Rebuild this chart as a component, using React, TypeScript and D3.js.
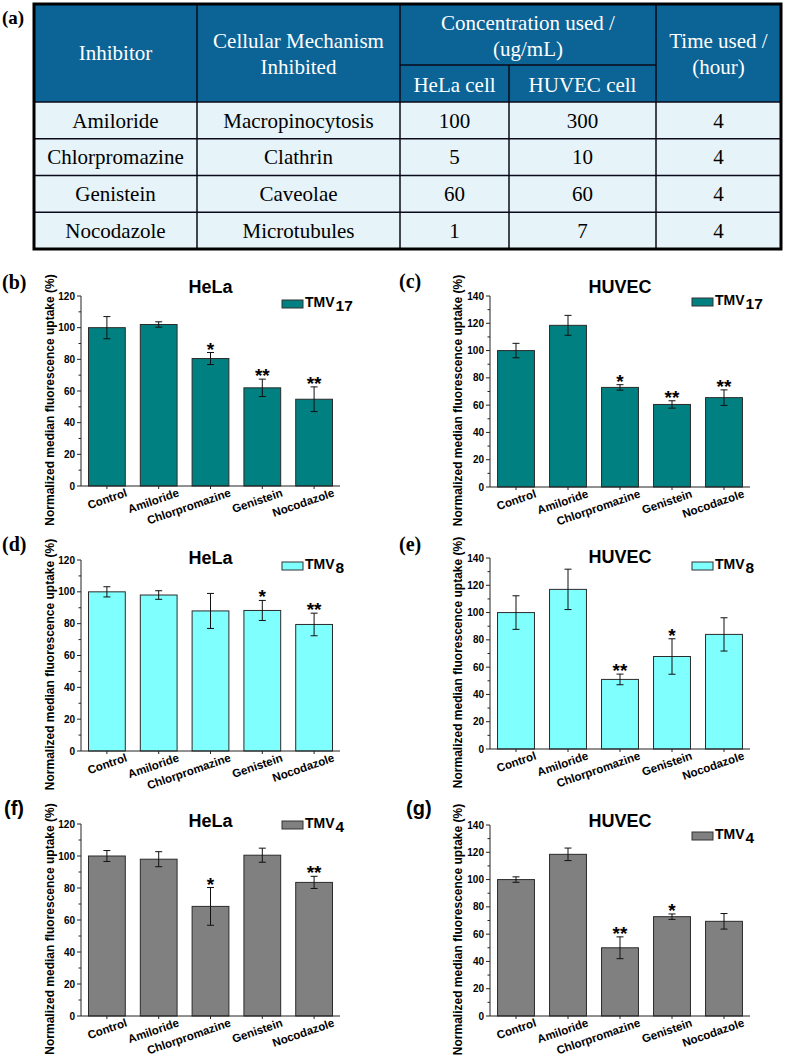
import React from "react";
import { scaleLinear, scaleBand, range } from "d3";

// table (a)
const tableHead = ["Inhibitor", "Cellular Mechanism", "Concentration used /", "Time used /"];
const inhibitors = ["Amiloride", "Chlorpromazine", "Genistein", "Nocodazole"];
const mechanisms = ["Macropinocytosis", "Clathrin", "Caveolae", "Microtubules"];
const helaConc = ["100", "5", "60", "1"];
const huvecConc = ["300", "10", "60", "7"];
const timeUsed = ["4", "4", "4", "4"];

// bar charts (b)-(g)
const categories = ["Control", "Amiloride", "Chlorpromazine", "Genistein", "Nocodazole"];

const helaTmv17 = [100, 102, 80.5, 62, 54.8];
const helaTmv17Err = [7, 1.7, 3.8, 5.5, 7.8];
const helaTmv17Sig = ["", "", "*", "**", "**"];

const huvecTmv17 = [100, 118.5, 73, 60.5, 65.5];
const huvecTmv17Err = [5.3, 7.3, 2, 2.7, 5.7];
const huvecTmv17Sig = ["", "", "*", "**", "**"];

const helaTmv8 = [100, 98, 88, 88.3, 79.5];
const helaTmv8Err = [3.2, 2.7, 11, 6.3, 7.1];
const helaTmv8Sig = ["", "", "", "*", "**"];

const huvecTmv8 = [100, 117, 51, 67.8, 84];
const huvecTmv8Err = [12.3, 14.8, 3.9, 13, 12.2];
const huvecTmv8Sig = ["", "", "**", "*", ""];

const helaTmv4 = [100, 98, 68.5, 100.5, 83.5];
const helaTmv4Err = [3.4, 4.7, 11.8, 4.4, 3.8];
const helaTmv4Sig = ["", "", "*", "", "**"];

const huvecTmv4 = [100, 118.5, 50, 72.8, 69.4];
const huvecTmv4Err = [2, 4.6, 8, 2, 5.7];
const huvecTmv4Sig = ["", "", "**", "*", ""];

const SANS = "'Liberation Sans', Arial, sans-serif";
const SERIF = "'Liberation Serif', 'Times New Roman', serif";

const panels = [
  { tag: "(b)", tagX: 2, tagY: 289, tagFont: SERIF, title: "HeLa", sub: "17", fill: "#008080", vals: helaTmv17, errs: helaTmv17Err, sig: helaTmv17Sig, left: 81, right: 340, top: 296, bottom: 486, max: 120, titleY: 293, legY: 300, labX: 54 },
  { tag: "(c)", tagX: 399, tagY: 288, tagFont: SERIF, title: "HUVEC", sub: "17", fill: "#008080", vals: huvecTmv17, errs: huvecTmv17Err, sig: huvecTmv17Sig, left: 490, right: 750, top: 296, bottom: 487, max: 140, titleY: 293, legY: 298, labX: 462 },
  { tag: "(d)", tagX: 2, tagY: 551, tagFont: SERIF, title: "HeLa", sub: "8", fill: "#80ffff", vals: helaTmv8, errs: helaTmv8Err, sig: helaTmv8Sig, left: 81, right: 340, top: 560, bottom: 751, max: 120, titleY: 564, legY: 562, labX: 54 },
  { tag: "(e)", tagX: 399, tagY: 551, tagFont: SERIF, title: "HUVEC", sub: "8", fill: "#80ffff", vals: huvecTmv8, errs: huvecTmv8Err, sig: huvecTmv8Sig, left: 490, right: 750, top: 558, bottom: 749, max: 140, titleY: 563, legY: 562, labX: 462 },
  { tag: "(f)", tagX: 4, tagY: 815, tagFont: SANS, title: "HeLa", sub: "4", fill: "#808080", vals: helaTmv4, errs: helaTmv4Err, sig: helaTmv4Sig, left: 81, right: 340, top: 824, bottom: 1016, max: 120, titleY: 827, legY: 821, labX: 54 },
  { tag: "(g)", tagX: 406, tagY: 815, tagFont: SANS, title: "HUVEC", sub: "4", fill: "#808080", vals: huvecTmv4, errs: huvecTmv4Err, sig: huvecTmv4Sig, left: 490, right: 750, top: 825, bottom: 1016, max: 140, titleY: 827, legY: 832, labX: 462 },
];

type PanelProps = (typeof panels)[number];

function Panel(p: PanelProps) {
  const x = scaleBand<string>().domain(categories).range([p.left, p.right]).paddingInner(0.29).paddingOuter(0.145);
  const y = scaleLinear().domain([0, p.max]).range([p.bottom, p.top]);
  const major = range(0, p.max + 1, 20);
  const minor = range(10, p.max, 20);
  const cx = (c: string) => (x(c) as number) + x.bandwidth() / 2;
  const mid = (p.left + p.right) / 2;

  return (
    <g fontFamily={SANS}>
      <text x={p.tagX} y={p.tagY} fontFamily={p.tagFont} fontWeight="bold" fontSize={20}>{p.tag}</text>
      <text x={mid} y={p.titleY} textAnchor="middle" fontWeight="bold" fontSize={18}>{p.title}</text>

      {/* legend */}
      <rect x={p.right - 58} y={p.legY} width={21} height={8} fill={p.fill} stroke="#333" strokeWidth={1} />
      <text x={p.right - 35} y={p.legY + 7} fontWeight="bold" fontSize={14}>
        TMV<tspan dx={1} dy={4} fontSize={15.5}>{p.sub}</tspan>
      </text>

      {/* bars */}
      {categories.map((c, i) => (
        <rect key={c} x={x(c)} y={y(p.vals[i])} width={x.bandwidth()} height={y(0) - y(p.vals[i])}
          fill={p.fill} stroke="#2b2b2b" strokeWidth={1} />
      ))}

      {/* error bars */}
      {categories.map((c, i) => {
        const hi = y(p.vals[i] + p.errs[i]);
        const lo = y(p.vals[i] - p.errs[i]);
        const xc = cx(c);
        return (
          <g key={c} stroke="#111" strokeWidth={1}>
            <line x1={xc} x2={xc} y1={hi} y2={lo} />
            <line x1={xc - 3.5} x2={xc + 3.5} y1={hi} y2={hi} />
            <line x1={xc - 3.5} x2={xc + 3.5} y1={lo} y2={lo} />
          </g>
        );
      })}

      {/* significance stars */}
      {categories.map((c, i) =>
        p.sig[i] ? (
          <text key={c} x={cx(c)} y={y(p.vals[i] + p.errs[i]) + 3} textAnchor="middle" fontWeight="bold" fontSize={19}>
            {p.sig[i]}
          </text>
        ) : null
      )}

      {/* y axis */}
      <line x1={p.left} x2={p.left} y1={p.top} y2={p.bottom} stroke="#222" strokeWidth={1} />
      {major.map((t) => (
        <g key={t}>
          <line x1={p.left - 4} x2={p.left} y1={y(t)} y2={y(t)} stroke="#222" strokeWidth={1} />
          <text x={p.left - 6} y={y(t)} dy="0.35em" textAnchor="end" fontWeight="bold" fontSize={10}>{t}</text>
        </g>
      ))}
      {minor.map((t) => (
        <line key={t} x1={p.left - 2.5} x2={p.left} y1={y(t)} y2={y(t)} stroke="#222" strokeWidth={1} />
      ))}
      <text transform={`translate(${p.labX},${(p.top + p.bottom) / 2 + 9}) rotate(-90)`} textAnchor="middle"
        fontWeight="bold" fontSize={12}>
        Normalized median fluorescence uptake (%)
      </text>

      {/* x axis */}
      <line x1={p.left} x2={p.right} y1={p.bottom} y2={p.bottom} stroke="#222" strokeWidth={1} />
      {categories.map((c) => (
        <g key={c}>
          <line x1={cx(c)} x2={cx(c)} y1={p.bottom} y2={p.bottom + 3} stroke="#222" strokeWidth={1} />
          <text transform={`translate(${cx(c) + 21},${p.bottom + 10}) rotate(-19)`} textAnchor="end"
            fontWeight="bold" fontSize={11.5}>
            {c}
          </text>
        </g>
      ))}
    </g>
  );
}

function Table() {
  const cols = [34, 197, 400, 509, 656, 781];
  const top = 4;
  const subY = 65;
  const headBottom = 102;
  const rowH = 36.75;
  const bottom = headBottom + rowH * inhibitors.length;
  const colMid = (i: number) => (cols[i] + cols[i + 1]) / 2;
  const rowY = (r: number) => headBottom + rowH * r + rowH / 2;
  const line = "#0a0a1a";
  const rowCells = [inhibitors, mechanisms, helaConc, huvecConc, timeUsed];

  return (
    <g fontFamily={SERIF} fontSize={21}>
      <text x={2} y={24} fontWeight="bold" fontSize={19}>(a)</text>
      <rect x={cols[0]} y={top} width={cols[5] - cols[0]} height={headBottom - top} fill="#0b6396" />
      <rect x={cols[0]} y={headBottom} width={cols[5] - cols[0]} height={bottom - headBottom} fill="#e6f3f8" />

      {/* header text */}
      <g fill="#fff" textAnchor="middle">
        <text x={colMid(0)} y={53} dy="0.35em">{tableHead[0]}</text>
        <text x={colMid(1)} y={41} dy="0.35em">{tableHead[1]}</text>
        <text x={colMid(1)} y={67} dy="0.35em">Inhibited</text>
        <text x={(cols[2] + cols[4]) / 2} y={23} dy="0.35em">{tableHead[2]}</text>
        <text x={(cols[2] + cols[4]) / 2} y={49} dy="0.35em">(ug/mL)</text>
        <text x={colMid(2)} y={85} dy="0.35em">HeLa cell</text>
        <text x={colMid(3)} y={85} dy="0.35em">HUVEC cell</text>
        <text x={colMid(4)} y={41} dy="0.35em">{tableHead[3]}</text>
        <text x={colMid(4)} y={67} dy="0.35em">(hour)</text>
      </g>

      {/* body text */}
      <g fill="#000" textAnchor="middle">
        {rowCells.map((col, ci) =>
          col.map((v, ri) => (
            <text key={`${ci}-${ri}`} x={colMid(ci)} y={rowY(ri)} dy="0.35em">{v}</text>
          ))
        )}
      </g>

      {/* grid lines */}
      <g stroke={line} strokeWidth={1.5}>
        {[1, 4].map((i) => (
          <line key={i} x1={cols[i]} x2={cols[i]} y1={top} y2={bottom} />
        ))}
        <line x1={cols[2]} x2={cols[2]} y1={top} y2={bottom} />
        <line x1={cols[3]} x2={cols[3]} y1={subY} y2={bottom} />
        <line x1={cols[2]} x2={cols[4]} y1={subY} y2={subY} />
        {range(0, inhibitors.length).map((r) => (
          <line key={r} x1={cols[0]} x2={cols[5]} y1={headBottom + rowH * r} y2={headBottom + rowH * r} />
        ))}
      </g>
      <rect x={cols[0]} y={top} width={cols[5] - cols[0]} height={bottom - top} fill="none" stroke="#000" strokeWidth={3} />
    </g>
  );
}

export default function App() {
  return (
    <div style={{ position: "absolute", left: 0, top: 0 }}>
      <svg width={787} height={1061} style={{ display: "block", background: "#fff" }}>
        <Table />
        {panels.map((p) => (
          <Panel key={p.tag} {...p} />
        ))}
      </svg>
    </div>
  );
}
